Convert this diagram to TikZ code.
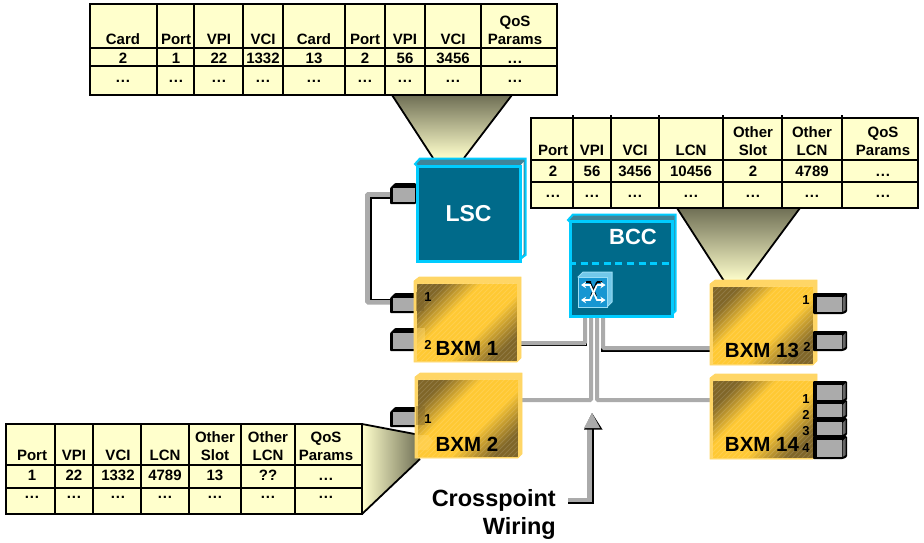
\documentclass[tikz,border=0pt]{standalone}
\usepackage{fontspec}
\setmainfont{Liberation Sans}
\usetikzlibrary{arrows.meta}
\definecolor{tfill}{HTML}{FFFFCC}
\definecolor{olive}{HTML}{6F6F55}
\definecolor{teal1}{HTML}{006A8A}
\definecolor{teal2}{HTML}{3F8499}
\definecolor{cyan1}{HTML}{00CCFF}
\definecolor{gold1}{HTML}{FFC933}
\definecolor{gold2}{HTML}{FFD666}
\definecolor{wiregray}{HTML}{ABABAB}
\definecolor{brown1}{HTML}{806628}
\definecolor{iconblue}{HTML}{1796D2}
\definecolor{iconedge}{HTML}{99DDF5}
\pgfdeclareverticalshading{goldsh}{100bp}{color(0bp)=(brown1); color(25bp)=(brown1); color(42bp)=(gold1); color(60bp)=(gold1); color(75bp)=(brown1); color(100bp)=(brown1)}
\pgfdeclarelayer{bg}
\pgfsetlayers{bg,main}
\newcommand\tdots{.\kern0.9pt.\kern0.9pt.}
\tikzset{
  x=1pt,y=-1pt,
  tline/.style={draw=black,line width=1.8pt},
  cell/.style={inner sep=0pt,anchor=base,align=center,font=\bfseries\fontsize{15}{17.5}\selectfont},
  goldface/.style={draw=gold2,line width=1pt,minimum width=101pt,minimum height=78pt,inner sep=0pt,
    shade,shading=goldsh,shading angle=45},
  goldbevel/.style={fill=gold2,draw=gold2,line width=.6pt},
  tealface/.style={draw=cyan1,line width=3pt,fill=teal1,inner sep=0pt,text=white,font=\bfseries\fontsize{23}{25}\selectfont},
  tealbevel/.style={fill=teal2,draw=cyan1,line width=2pt},
  portface/.style={fill=wiregray,inner sep=0pt,anchor=north west},
  wire/.style={draw=wiregray,line width=4pt,rounded corners=1pt},
  wireshadow/.style={draw=black,line width=1.6pt},
  big/.style={inner sep=0pt,font=\bfseries\fontsize{20.5}{23}\selectfont},
  small/.style={inner sep=0pt,font=\bfseries\fontsize{13}{15}\selectfont},
  callout/.style={inner sep=0pt,font=\bfseries\fontsize{23.5}{27}\selectfont},
  funnel/.style={draw=black,line width=1.8pt},
  iconarrow/.style={white,line width=1.7pt,-{Stealth[length=5pt,width=6.5pt]}},
  stripe/.style={white,line width=1pt,opacity=.13},
}
\newcommand\leftport[4]{% name, x, top, bottom
  \fill[black,rounded corners=1pt] ({#2+5},#3) -- (416,#3) -- (416,#4) -- (#2,#4) -- (#2,{#3+5}) -- cycle;
  \node[portface,minimum width=22pt,minimum height={#4-#3-7}] (#1) at ({#2+3},{#3+5}) {};
}
\newcommand\rightport[3]{% name, top, bottom
  \fill[black,rounded corners=1pt] (813,#2) -- (847,#2) -- (847,{#3-2}) -- (843,#3) -- (813,#3) -- cycle;
  \node[portface,minimum width=25pt,minimum height={#3-#2-6}] (#1) at (817,{#2+4}) {};
  \fill[wiregray!60!black] (842.5,{#2+5}) -- (845.5,{#2+2}) -- (845.5,{#3-4}) -- (842.5,{#3-2}) -- cycle;
}
\newcommand\goldbox[3]{% name, x, y
  \fill[goldbevel] (#2,{#3+84}) -- (#2,{#3+4}) -- ({#2+5},#3) -- ({#2+107},#3) -- ({#2+107},{#3+81}) -- ({#2+103},{#3+85}) -- (#2,{#3+85}) -- cycle;
  \node[goldface,anchor=north west] (#1) at ({#2+2},{#3+6}) {};
  \begin{scope}
    \clip ({#2+2.5},{#3+6.5}) rectangle ({#2+102.5},{#3+83.5});
    \foreach \s in {0,5,...,180}
      \draw[stripe] ({#2+\s},{#3+6}) -- ({#2+\s-80},{#3+86});
  \end{scope}
}
\begin{document}
\begin{tikzpicture}
\useasboundingbox (0,0) rectangle (924,542);
% funnels
\begin{pgfonlayer}{bg}
  \shade[top color=olive,bottom color=tfill] (392,95) -- (512,95) -- (464,158) -- (433,158) -- cycle;
  \draw[funnel] (392,95) -- (433,158) (512,95) -- (464,158);
  \shade[top color=olive,bottom color=tfill] (677,208) -- (800,208) -- (746,281) -- (724,281) -- cycle;
  \draw[funnel] (677,208) -- (724,281) (800,208) -- (746,281);
  \shade[left color=tfill,right color=olive] (362,424) -- (420,435) -- (420,459) -- (362,514) -- cycle;
  \draw[funnel] (362,424) -- (420,435) (362,514) -- (420,459);
\end{pgfonlayer}
% table 1
\draw[tline,fill=tfill] (90,4) rectangle (557,95);
\foreach \x in {157,194,243,283,345,385,425,481} \draw[tline] (\x,4) -- (\x,95);
\foreach \y in {48,66} \draw[tline] (90,\y) -- (557,\y);
\foreach \n/\x/\t in {1/123/Card,2/176/Port,3/219/VPI,4/263/VCI,5/314/Card,6/365/Port,7/405/VPI,8/453/VCI,9/515/{QoS\\Params}}
  \node[cell] (ah\n) at (\x,44) {\t};
\foreach \n/\x/\t in {1/123/2,2/176/1,3/219/22,4/263/1332,5/314/13,6/365/2,7/405/56,8/453/3456,9/515/\tdots}
  {\node[cell] (ar\n) at (\x,63) {\t};
   \node[cell] (ad\n) at (\x,82) {\tdots};}
% table 2
\draw[tline,fill=tfill] (531,118) rectangle (918,208);
\foreach \x in {573,611,659,723,782,842} \draw[tline] (\x,115) -- (\x,208);
\foreach \y in {160,182} \draw[tline] (531,\y) -- (918,\y);
\foreach \n/\x/\t in {1/553/Port,2/592/VPI,3/635/VCI,4/691/LCN,5/753/{Other\\Slot},6/812/{Other\\LCN},7/883/{QoS\\Params}}
  \node[cell] (bh\n) at (\x,155) {\t};
\foreach \n/\x/\t in {1/553/2,2/592/56,3/635/3456,4/691/10456,5/753/2,6/812/4789,7/883/\tdots}
  {\node[cell] (br\n) at (\x,176) {\t};
   \node[cell] (bd\n) at (\x,197) {\tdots};}
% table 3
\draw[tline,fill=tfill] (6,424) rectangle (362,514);
\foreach \x in {55,93,141,189,241,295} \draw[tline] (\x,424) -- (\x,514);
\foreach \y in {465,488} \draw[tline] (6,\y) -- (362,\y);
\foreach \n/\x/\t in {1/32/Port,2/74/VPI,3/118/VCI,4/165/LCN,5/215/{Other\\Slot},6/268/{Other\\LCN},7/326/{QoS\\Params}}
  \node[cell] (ch\n) at (\x,460) {\t};
\foreach \n/\x/\t in {1/32/1,2/74/22,3/118/1332,4/165/4789,5/215/13,6/268/??,7/326/\tdots}
  {\node[cell] (cr\n) at (\x,480) {\t};
   \node[cell] (cd\n) at (\x,498) {\tdots};}
% left ports
\leftport{plsc}{390}{183}{204}
\leftport{pa}{390}{293}{313}
\leftport{pb}{390}{328}{351}
\leftport{pc}{390}{407}{427}
% LSC
\fill[tealbevel] (415,164) -- (420,158.5) -- (525.5,158.5) -- (525.5,255) -- (519,260) -- cycle;
\fill[white] (521,165) -- (523.5,162) -- (523.5,254) -- (521,257) -- cycle;
\node[tealface,minimum width=103pt,minimum height=95pt,anchor=north west] (lsc) at (415.5,164.5) {LSC};
% BCC
\fill[tealbevel] (568,220) -- (573,214.5) -- (675.5,214.5) -- (675.5,311) -- (670,316) -- cycle;
\node[tealface,minimum width=102pt,minimum height=95pt,anchor=north west] (bcc) at (568.5,220) {};
\node[inner sep=0pt,text=white,font=\bfseries\fontsize{22}{24}\selectfont] (bcclabel) at (633,237) {BCC};
\draw[draw=cyan1,line width=3pt,dash pattern=on 7pt off 4.6pt] (569,263) -- (669,263);
% switch icon
\fill[fill=iconedge!70!iconblue,draw=iconedge,line width=1pt] (578,277) -- (583,272) -- (612,272) -- (612,302) -- (607,307) -- cycle;
\node[fill=iconblue,draw=iconedge,line width=1.2pt,minimum width=29pt,minimum height=30pt,inner sep=0pt,anchor=north west] (icon) at (578,277) {};
\draw[black,line width=1.6pt] (586,282) -- (591,282) (597,282) -- (602,282) (590,282) -- (596,296) (597,282) -- (591,296);
\draw[iconarrow] (590,285) -- (597,300) -- (605.5,300);
\draw[iconarrow] (597,285) -- (590,300) -- (581,300);
\draw[iconarrow] (590.5,285) -- (581,285);
\draw[iconarrow] (596.5,285) -- (605.5,285);
% BXM boxes
\goldbox{bxma}{414}{277}
\goldbox{bxmb}{415}{373}
\goldbox{bxmc}{710}{280}
\goldbox{bxmd}{710}{374}
% right ports
\rightport{pd}{293}{314}
\rightport{pe}{331}{351}
\rightport{pf}{381}{402}
\rightport{pg}{400}{419}
\rightport{ph}{418}{437}
\rightport{pi}{436}{459}
% patches at the ports
\fill[brown1,opacity=.55] (416,292) rectangle (424,311);
\fill[gold2,opacity=.5] (416,328) rectangle (425,350);
\fill[brown1,opacity=.4] (416,406) rectangle (425,425);
\fill[gold2,opacity=.5] (416,435) -- (428,435) -- (433,441) -- (428,450) -- (416,450) -- cycle;
% labels
\node[big] (la) at (467,348) {BXM 1};
\node[big] (lb) at (467,444) {BXM 2};
\node[big] (lc) at (762,350) {BXM 13};
\node[big] (ld) at (762,444) {BXM 14};
\node[small] (na1) at (428,297) {1};
\node[small] (na2) at (428,345) {2};
\node[small] (nb1) at (428,419) {1};
\node[small] (nc1) at (806,300) {1};
\node[small] (nc2) at (807,347) {2};
\node[small] (nd1) at (806,399) {1};
\node[small] (nd2) at (806,415) {2};
\node[small] (nd3) at (806,431) {3};
\node[small] (nd4) at (806,448) {4};
% wires
\coordinate (wa) at (585,343);
\coordinate (wb) at (603,348);
\coordinate (wc) at (591,400);
\coordinate (wd) at (597,400);
\coordinate (sa) at (586.5,345.5);
\coordinate (sb) at (602,351);
\coordinate (la1) at (367.5,194.5);
\coordinate (la2) at (367.5,302);
\coordinate (lb1) at (371,198);
\coordinate (lb2) at (371,299.5);
\begin{pgfonlayer}{bg}
  \draw[wireshadow] (bxma.east |- sa) -- (sa) -- ++(0,-3);
  \draw[wireshadow] (sb) ++(0,-3) -- (sb) -- (bxmc.west |- sb);
  \draw[wire] (bxma.east |- wa) -- (wa) -- (wa |- bcc.south);
  \draw[wire] (bxmc.west |- wb) -- (wb) -- (wb |- bcc.south);
  \draw[wire] (bxmb.east |- wc) -- (wc) -- (wc |- bcc.south);
  \draw[wire] (bxmd.west |- wd) -- (wd) -- (wd |- bcc.south);
  \draw[wire,line width=5pt] (plsc.west |- la1) -- (la1) -- (la2) -- (pa.west |- la2);
  \draw[wireshadow] (plsc.west |- lb1) -- (lb1) -- (lb2) -- (pa.west |- lb2);
\end{pgfonlayer}
% crosspoint
\node[callout,anchor=east] (cp) at (556,500) {Crosspoint};
\node[callout,anchor=east] (wir) at (556,528) {Wiring};
\coordinate (tip) at (592,413);
\coordinate (elbow) at (589.5,500);
\coordinate (cpend) at (568,500);
\draw[black,line width=1.8pt] (568,503.2) -- (593,503.2) -- (593,428);
\draw[wiregray,line width=4.5pt] (cpend) -- (elbow) -- (589.5,428);
\fill[black] (tip) -- (602.5,429.5) -- (584,429.5) -- cycle;
\fill[wiregray] (tip) -- (600,428) -- (584,428) -- cycle;
\end{tikzpicture}
\end{document}
